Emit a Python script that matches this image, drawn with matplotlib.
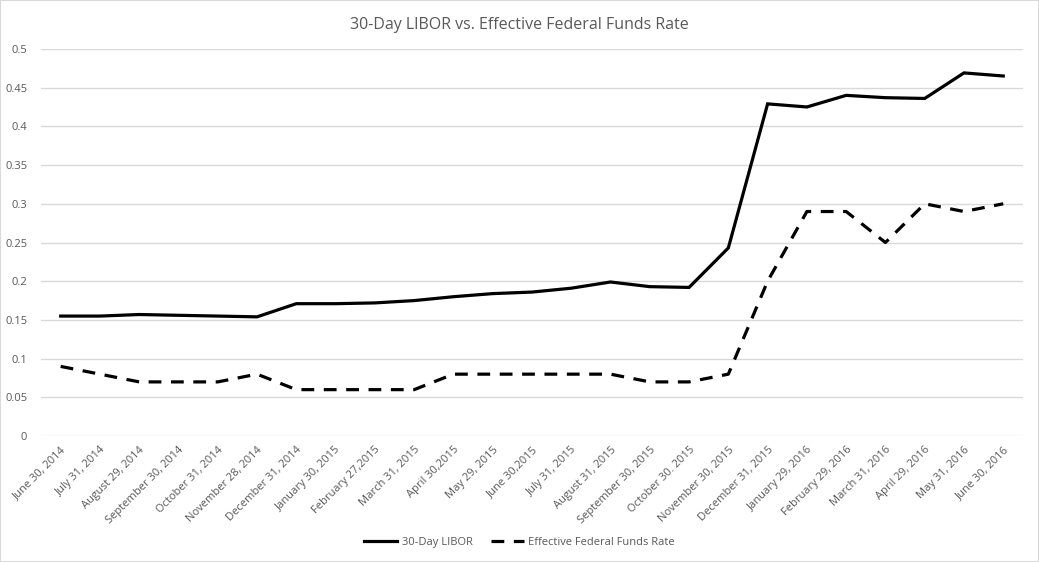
import matplotlib.pyplot as plt
import numpy as np

dates = ['June 30, 2014', 'July 31, 2014', 'August 29, 2014', 'September 30, 2014',
         'October 31, 2014', 'November 28, 2014', 'December 31, 2014', 'January 30, 2015',
         'February 27,2015', 'March 31, 2015', 'April 30,2015', 'May 29, 2015',
         'June 30,2015', 'July 31, 2015', 'August 31, 2015', 'September 30, 2015',
         'October 30. 2015', 'November 30, 2015', 'December 31, 2015', 'January 29, 2016',
         'February 29, 2016', 'March 31, 2016', 'April 29, 2016', 'May 31, 2016',
         'June 30, 2016']
libor = [0.155, 0.155, 0.157, 0.156, 0.155, 0.154, 0.171, 0.171, 0.172, 0.175,
         0.180, 0.184, 0.186, 0.191, 0.199, 0.193, 0.192, 0.243, 0.429, 0.425,
         0.440, 0.437, 0.436, 0.469, 0.465]
effr = [0.09, 0.08, 0.07, 0.07, 0.07, 0.08, 0.06, 0.06, 0.06, 0.06,
        0.08, 0.08, 0.08, 0.08, 0.08, 0.07, 0.07, 0.08, 0.20, 0.29,
        0.29, 0.25, 0.30, 0.29, 0.30]

plt.rcParams['font.family'] = ['Open Sans', 'DejaVu Sans']
txt = '#595959'

fig = plt.figure(figsize=(10.39, 5.62), dpi=100)
ax = fig.add_axes([0.0395, 0.224, 0.945, 0.689])
x = np.arange(len(dates))
ax.plot(x, libor, color='black', lw=2.3, solid_joinstyle='miter', label='30-Day LIBOR')
ax.plot(x, effr, color='black', lw=2.3, dashes=(4, 3), label='Effective Federal Funds Rate')

ax.set_xlim(-0.5, len(dates) - 0.5)
ax.set_ylim(0, 0.5)
yt = [0, 0.05, 0.1, 0.15, 0.2, 0.25, 0.3, 0.35, 0.4, 0.45, 0.5]
ax.set_yticks(yt)
ax.set_yticklabels(['0', '0.05', '0.1', '0.15', '0.2', '0.25', '0.3', '0.35', '0.4', '0.45', '0.5'])
ax.set_xticks(x)
ax.set_xticklabels(dates, rotation=45, ha='right', rotation_mode='anchor')
ax.tick_params(length=0, labelsize=8, labelcolor=txt)
ax.tick_params(axis='y', pad=10)
ax.tick_params(axis='x', pad=6)
ax.grid(axis='y', color='#d9d9d9', lw=1)
ax.set_axisbelow(True)
for s in ax.spines.values():
    s.set_visible(False)

fig.text(0.5, 0.955, '30-Day LIBOR vs. Effective Federal Funds Rate', ha='center', va='center',
         fontsize=11.5, color=txt)
fig.legend(loc='center', bbox_to_anchor=(0.5, 0.035), ncol=2, frameon=False, fontsize=8,
           labelcolor=txt, handlelength=3, handletextpad=0.4, columnspacing=1.6)
fig.patches.append(plt.Rectangle((0, 0), 1, 1, transform=fig.transFigure, fill=False,
                                 edgecolor='#d9d9d9', lw=1.5))
fig.savefig('out.png', dpi=100)
